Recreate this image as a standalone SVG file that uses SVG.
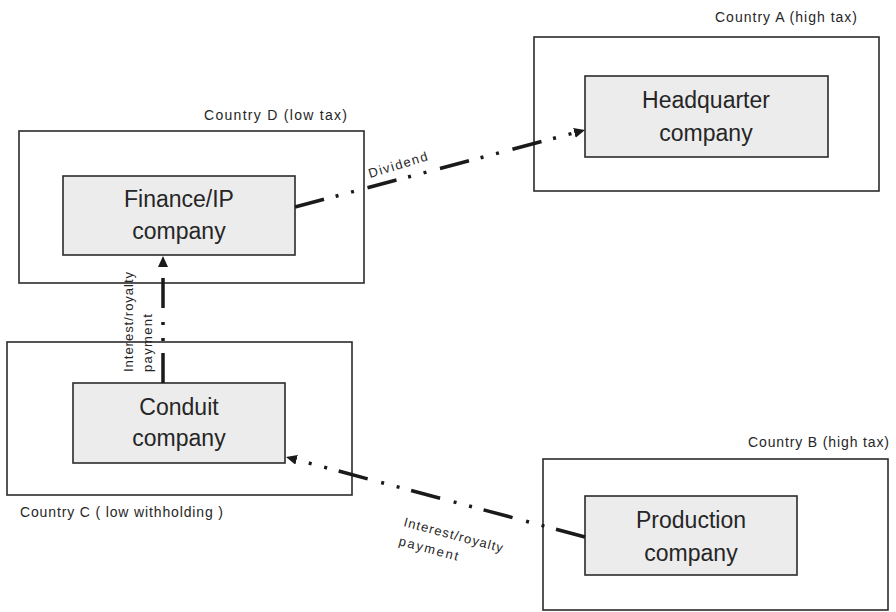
<svg xmlns="http://www.w3.org/2000/svg" width="896" height="612" viewBox="0 0 896 612">
<style>
.country{fill:#ffffff;stroke:#2b2b2b;stroke-width:1.6}
.company{fill:#ececec;stroke:#2b2b2b;stroke-width:1.6}
.ct{font-family:"Liberation Sans",Arial,sans-serif;font-size:23px;fill:#262626;text-anchor:middle}
.lbl{font-family:"Liberation Sans",Arial,sans-serif;font-size:14px;fill:#262626}
.el{font-family:"Liberation Sans",Arial,sans-serif;font-size:13px;fill:#262626}
.flow{fill:none;stroke:#1a1a1a;stroke-width:3.5;stroke-linecap:butt;stroke-dasharray:30 12 3 13 3 14}
</style>
<defs>
<marker id="ah" markerUnits="userSpaceOnUse" markerWidth="12" markerHeight="11" refX="0" refY="5" orient="auto">
<path d="M0,0 L11,5 L0,10 z" fill="#1a1a1a"/>
</marker>
</defs>
<g id="countryA">
<rect class="country" x="534" y="37" width="345" height="154"/>
<text class="lbl" x="715" y="22" textLength="142" lengthAdjust="spacing">Country A (high tax)</text>
</g>
<g id="headquarter">
<rect class="company" x="585" y="76" width="243" height="81"/>
<text class="ct" x="706" y="108">Headquarter</text>
<text class="ct" x="706" y="141">company</text>
</g>
<g id="countryD">
<rect class="country" x="19" y="131" width="345" height="152"/>
<text class="lbl" x="204" y="120" textLength="143" lengthAdjust="spacing">Country D (low tax)</text>
</g>
<g id="finance">
<rect class="company" x="63" y="176" width="232" height="79"/>
<text class="ct" x="179" y="207">Finance/IP</text>
<text class="ct" x="179" y="239">company</text>
</g>
<g id="countryC">
<rect class="country" x="7" y="342" width="345" height="153"/>
<text class="lbl" x="20" y="517" textLength="203" lengthAdjust="spacing">Country C ( low withholding )</text>
</g>
<g id="conduit">
<rect class="company" x="73" y="383" width="212" height="80"/>
<text class="ct" x="179" y="415">Conduit</text>
<text class="ct" x="179" y="446">company</text>
</g>
<g id="countryB">
<rect class="country" x="543" y="459" width="345" height="151"/>
<text class="lbl" x="748" y="447" textLength="141" lengthAdjust="spacing">Country B (high tax)</text>
</g>
<g id="production">
<rect class="company" x="585" y="496" width="212" height="79"/>
<text class="ct" x="691" y="528">Production</text>
<text class="ct" x="691" y="561">company</text>
</g>
<g id="connectors">
<path class="flow" d="M295,207 L574.4,132.8" marker-end="url(#ah)"/>
<path class="flow" d="M163,383 L163,267" marker-end="url(#ah)"/>
<path class="flow" d="M585,537 L296.6,459.8" marker-end="url(#ah)"/>
<text class="el" transform="translate(370,178) rotate(-17)" textLength="61" lengthAdjust="spacing">Dividend</text>
<text class="el" transform="translate(133,372) rotate(-90)" textLength="100" lengthAdjust="spacing">Interest/royalty</text>
<text class="el" transform="translate(152,372) rotate(-90)" textLength="58" lengthAdjust="spacing">payment</text>
<text class="el" transform="translate(403,526) rotate(15)" textLength="102" lengthAdjust="spacing">Interest/royalty</text>
<text class="el" transform="translate(398,545) rotate(15)" textLength="61" lengthAdjust="spacing">payment</text>
</g>
</svg>
